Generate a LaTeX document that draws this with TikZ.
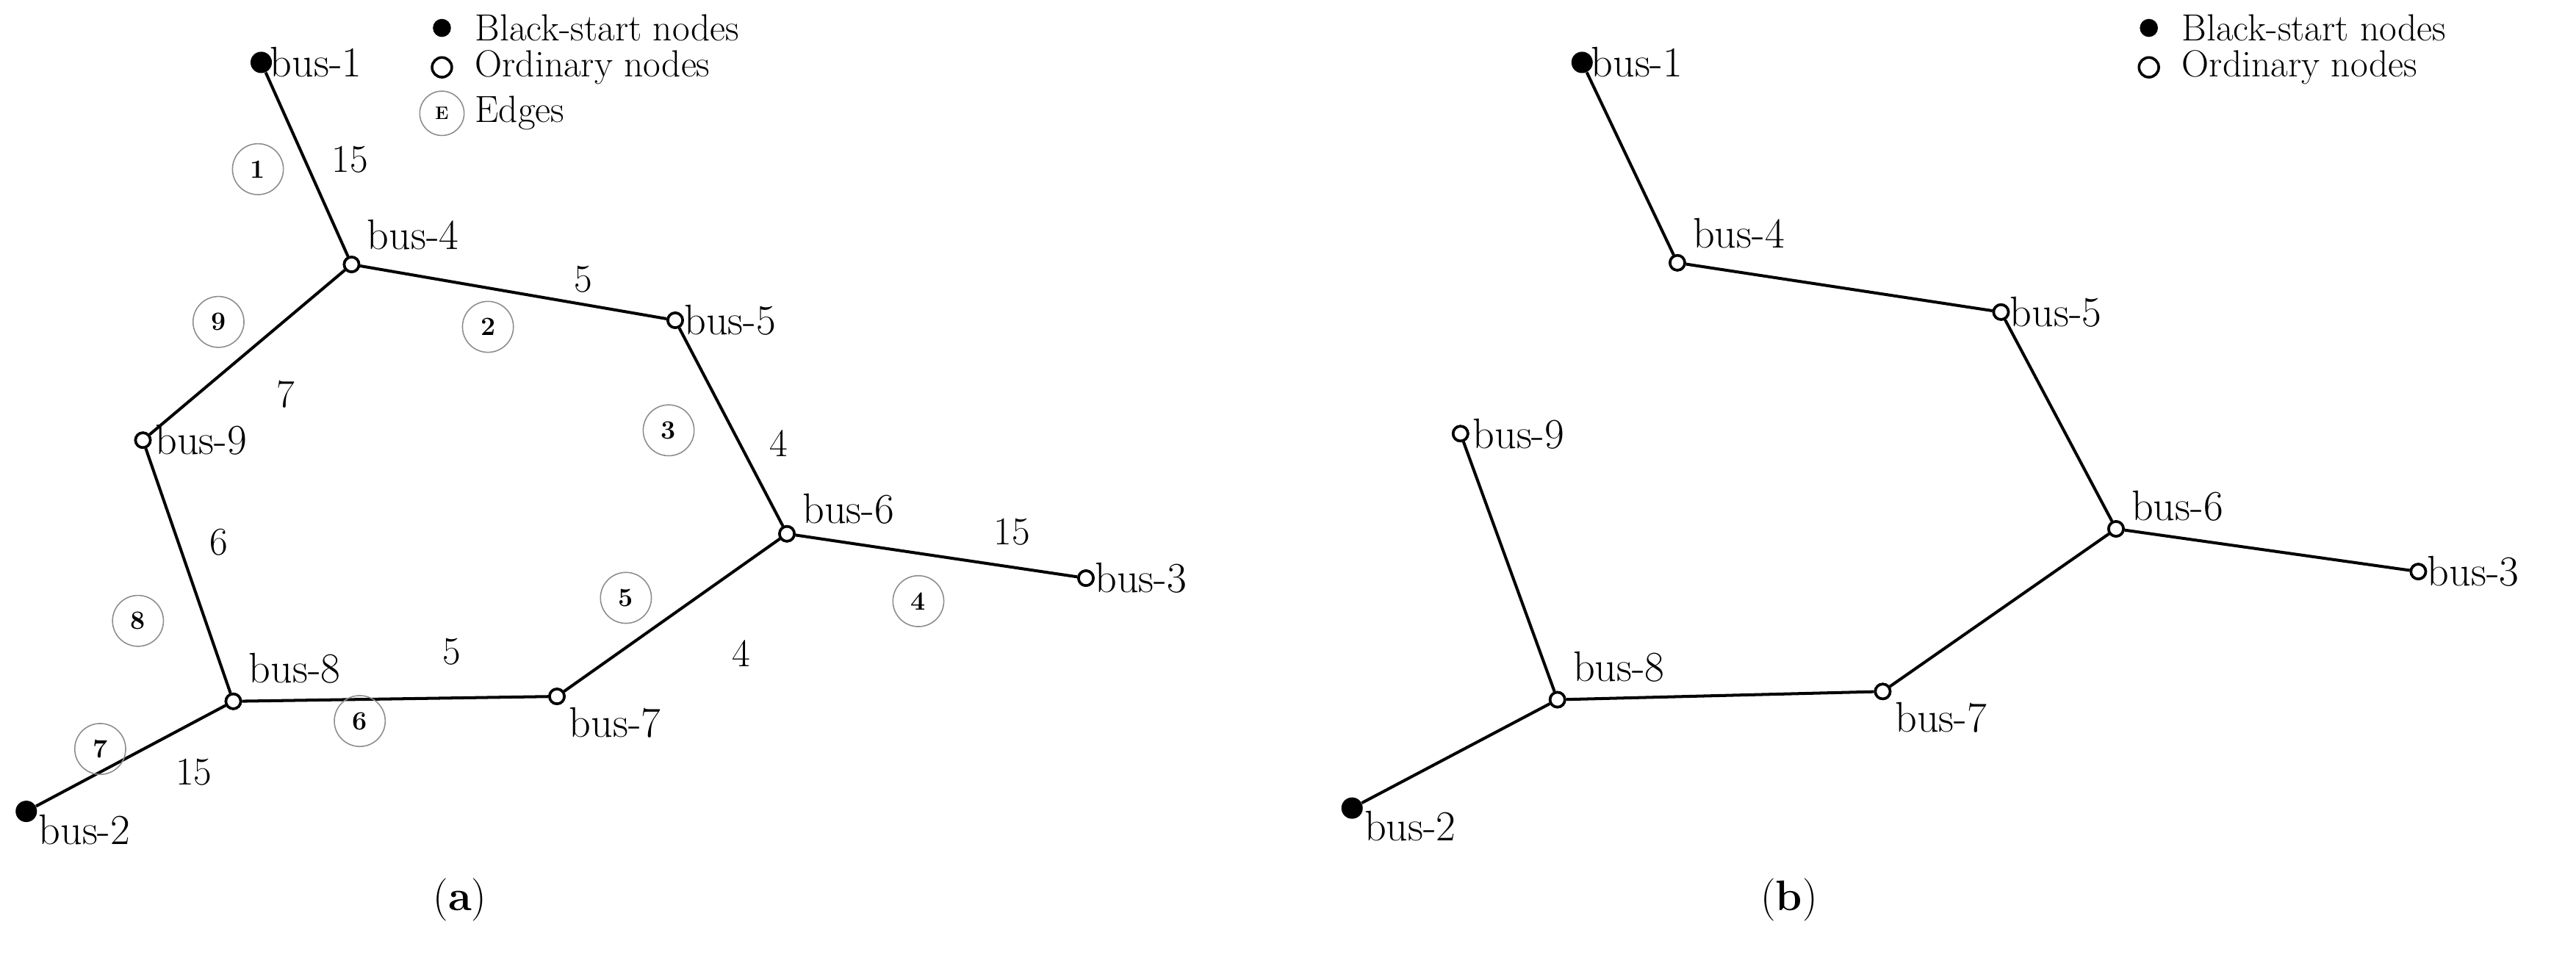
\documentclass[tikz,border=0pt]{standalone}
\begin{document}
\begin{tikzpicture}[x=1pt,y=-1pt,
 bs/.style={circle,fill=black,inner sep=0pt,minimum size=13pt},
 on/.style={circle,draw=black,line width=1.6pt,fill=white,inner sep=0pt,minimum size=9pt},
 ed/.style={circle,draw=black!45,line width=0.7pt,inner sep=0pt,minimum size=31pt,font=\fontsize{16}{19}\selectfont\bfseries},
 ln/.style={line width=1.8pt},
 lb/.style={font=\fontsize{26}{30}\selectfont},
 lg/.style={font=\fontsize{23}{25}\selectfont,inner sep=1pt},
 wt/.style={font=\fontsize{24}{28}\selectfont}]
\useasboundingbox (0,0) rectangle (1568,586);
% ---- panel (a)
\node[bs] (a1) at (159,38) {};
\node[on] (a4) at (214,161) {};
\node[on] (a5) at (411,195) {};
\node[on] (a9) at (87,268) {};
\node[on] (a6) at (479,325) {};
\node[on] (a3) at (661,352) {};
\node[on] (a8) at (142,427) {};
\node[on] (a7) at (339,424) {};
\node[bs] (a2) at (16,494) {};
\draw[ln] (a1)--(a4) (a4)--(a5) (a4)--(a9) (a5)--(a6) (a9)--(a8) (a6)--(a3) (a6)--(a7) (a8)--(a7) (a8)--(a2);
\node[lb,anchor=west] at (161,38) {bus-1};
\node[lb,anchor=west] at (220,143) {bus-4};
\node[lb,anchor=west] at (413,195) {bus-5};
\node[lb,anchor=west] at (91,268) {bus-9};
\node[lb,anchor=west] at (485,310) {bus-6};
\node[lb,anchor=west] at (663,352) {bus-3};
\node[lb,anchor=west] at (148,407) {bus-8};
\node[lb,anchor=west] at (343,440) {bus-7};
\node[lb,anchor=west] at (20,505) {bus-2};
\node[ed] at (157,103) {1};
\node[ed] at (297,199) {2};
\node[ed] at (407,262) {3};
\node[ed] at (559,366) {4};
\node[ed] at (381,364) {5};
\node[ed] at (219,439) {6};
\node[ed] at (61,456) {7};
\node[ed] at (84,378) {8};
\node[ed] at (133,196) {9};
\node[wt] at (213,97) {15};
\node[wt] at (355,170) {5};
\node[wt] at (174,240) {7};
\node[wt] at (474,270) {4};
\node[wt] at (616,324) {15};
\node[wt] at (451,398) {4};
\node[wt] at (275,397) {5};
\node[wt] at (133,330) {6};
\node[wt] at (118,470) {15};
\node[bs,minimum size=11pt] (la1) at (269,17) {};
\node[on,minimum size=12pt] (la2) at (269,41) {};
\node[ed,minimum size=27pt,font=\fontsize{11}{13}\selectfont\bfseries] (la3) at (269,69) {E};
\node[lg,anchor=west] at (288,17) {Black-start nodes};
\node[lg,anchor=west] at (288,41) {Ordinary nodes};
\node[lg,anchor=west] at (288,69) {Edges};
\node[lb] at (280,548) {(\textbf{a})};
% ---- panel (b)
\node[bs] (b1) at (963,38) {};
\node[on] (b4) at (1021,160) {};
\node[on] (b5) at (1218,190) {};
\node[on] (b9) at (889,264) {};
\node[on] (b6) at (1288,322) {};
\node[on] (b3) at (1472,348) {};
\node[on] (b8) at (948,426) {};
\node[on] (b7) at (1146,421) {};
\node[bs] (b2) at (823,492) {};
\draw[ln] (b1)--(b4) (b4)--(b5) (b5)--(b6) (b6)--(b3) (b6)--(b7) (b7)--(b8) (b8)--(b9) (b8)--(b2);
\node[lb,anchor=west] at (965,38) {bus-1};
\node[lb,anchor=west] at (1027,142) {bus-4};
\node[lb,anchor=west] at (1220,190) {bus-5};
\node[lb,anchor=west] at (893,264) {bus-9};
\node[lb,anchor=west] at (1294,308) {bus-6};
\node[lb,anchor=west] at (1474,348) {bus-3};
\node[lb,anchor=west] at (954,406) {bus-8};
\node[lb,anchor=west] at (1150,437) {bus-7};
\node[lb,anchor=west] at (827,503) {bus-2};
\node[bs,minimum size=11pt] (lb1) at (1308,17) {};
\node[on,minimum size=12pt] (lb2) at (1308,41) {};
\node[lg,anchor=west] at (1327,17) {Black-start nodes};
\node[lg,anchor=west] at (1327,41) {Ordinary nodes};
\node[lb] at (1089,548) {(\textbf{b})};
\foreach \n in {a4,a5,a9,a6,a3,a8,a7,b4,b5,b9,b6,b3,b8,b7}{\node[on] at (\n) {};}
\end{tikzpicture}
\end{document}
